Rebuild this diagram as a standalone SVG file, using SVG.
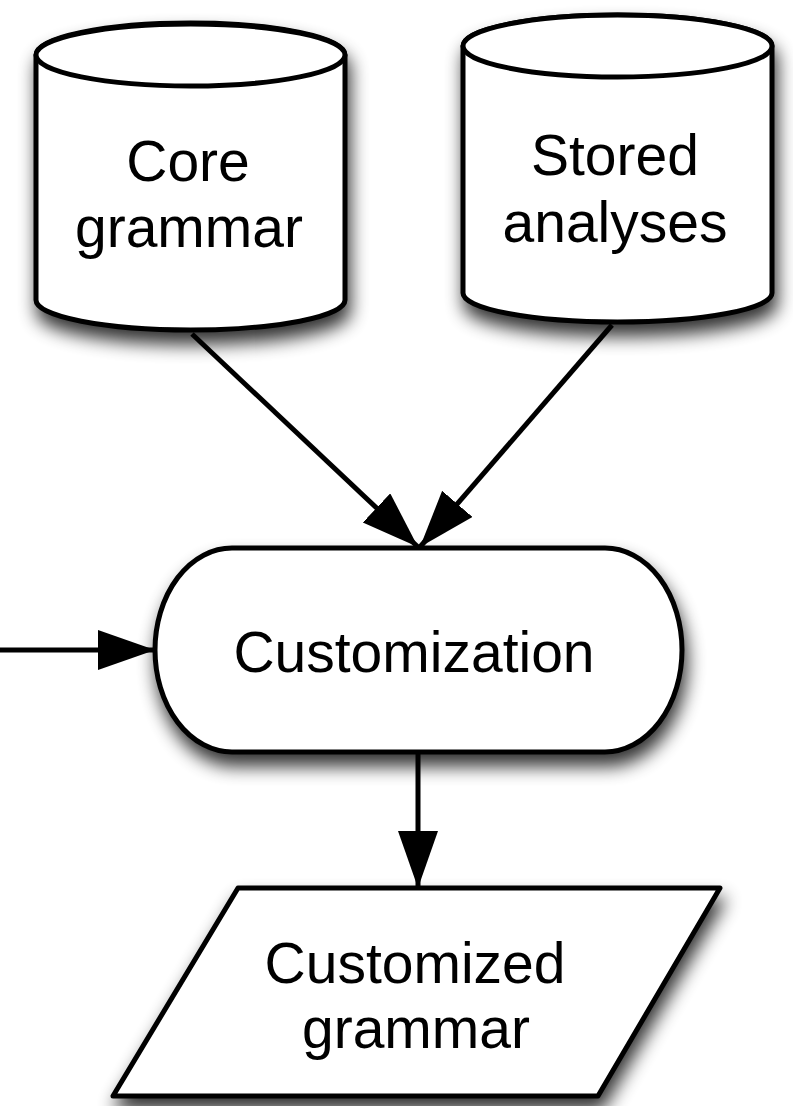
<svg xmlns="http://www.w3.org/2000/svg" width="793" height="1106" viewBox="0 0 793 1106">
<style>
.shape{fill:#fff;stroke:#000;stroke-width:5;stroke-linejoin:round}
.lbl{font-family:"Liberation Sans",Arial,Helvetica,sans-serif;font-size:57px;fill:#000;text-anchor:middle}
.conn{fill:none;stroke:#000;stroke-width:5}
</style>
<defs>
<filter id="sh" x="-20%" y="-20%" width="140%" height="150%">
<feGaussianBlur in="SourceAlpha" stdDeviation="9"/>
<feOffset dx="3" dy="12" result="b"/>
<feComponentTransfer><feFuncA type="linear" slope="0.8"/></feComponentTransfer>
<feMerge><feMergeNode/><feMergeNode in="SourceGraphic"/></feMerge>
</filter>
<marker id="ah" markerUnits="userSpaceOnUse" markerWidth="58" markerHeight="42" refX="57" refY="20" orient="auto" viewBox="0 0 58 42">
<path d="M0,0 L57,20 L0,40 Z" fill="#000"/>
</marker>
</defs>
<rect width="793" height="1106" fill="#fff"/>
<g id="core-grammar">
<g filter="url(#sh)">
<path class="shape" d="M36,55 V300 A154.5,30 0 0 0 345,300 V55 A154.5,32 0 0 0 36,55 Z"/>
</g>
<ellipse class="shape" cx="190.5" cy="55" rx="154.5" ry="31"/>
<text class="lbl" x="188" y="181">Core</text>
<text class="lbl" x="189" y="247">grammar</text>
</g>
<g id="stored-analyses">
<g filter="url(#sh)">
<path class="shape" d="M463,46 V293 A154.5,29 0 0 0 772,293 V46 A154.5,31 0 0 0 463,46 Z"/>
</g>
<ellipse class="shape" cx="617.5" cy="46" rx="154.5" ry="31"/>
<text class="lbl" x="615" y="175">Stored</text>
<text class="lbl" x="615" y="242">analyses</text>
</g>
<g id="customization">
<path class="shape" filter="url(#sh)" d="M232,548 H605 A77,102 0 0 1 605,752 H232 A77,102 0 0 1 232,548 Z"/>
<text class="lbl" x="414" y="672">Customization</text>
</g>
<g id="customized-grammar">
<path class="shape" filter="url(#sh)" d="M238,888 L720,888 L598,1096 L113,1096 Z"/>
<text class="lbl" x="415" y="983">Customized</text>
<text class="lbl" x="416" y="1048">grammar</text>
</g>
<g id="connectors">
<line class="conn" x1="192" y1="334" x2="418" y2="547" marker-end="url(#ah)"/>
<line class="conn" x1="612" y1="325" x2="420" y2="547" marker-end="url(#ah)"/>
<line class="conn" x1="0" y1="650" x2="155" y2="650" marker-end="url(#ah)"/>
<line class="conn" x1="418" y1="752" x2="418" y2="888" marker-end="url(#ah)"/>
</g>
</svg>
